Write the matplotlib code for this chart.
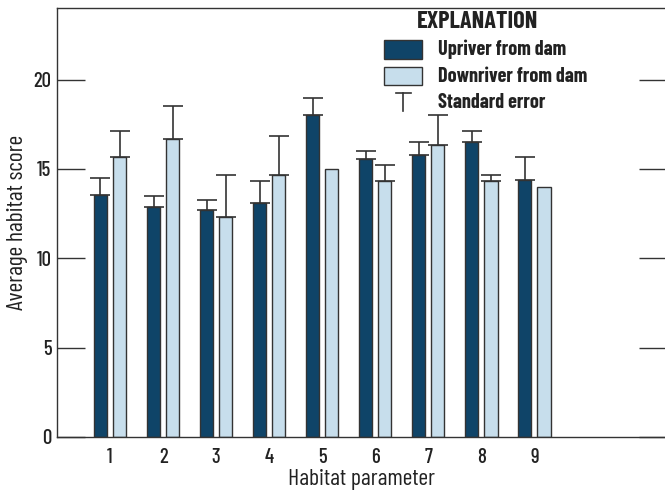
import matplotlib
matplotlib.use("Agg")
import matplotlib.pyplot as plt
import numpy as np
from matplotlib.patches import Rectangle
from matplotlib.lines import Line2D

DARK = "#0F4468"
LIGHT = "#C7DEEC"
EDGE = "#333333"
INK = "#222222"

plt.rcParams["font.family"] = ["Barlow Condensed", "DejaVu Sans"]
plt.rcParams["font.weight"] = 500

params = [1, 2, 3, 4, 5, 6, 7, 8, 9]
upriver = [13.52, 12.85, 12.68, 13.07, 18.0, 15.54, 15.77, 16.53, 14.38]
upriver_se = [0.97, 0.65, 0.60, 1.23, 0.97, 0.46, 0.75, 0.57, 1.29]
downriver = [15.67, 16.68, 12.32, 14.66, 15.0, 14.32, 16.32, 14.32, 13.99]
downriver_se = [1.43, 1.86, 2.34, 2.19, 0.0, 0.88, 1.68, 0.34, 0.0]

fig = plt.figure(figsize=(6.65, 4.95), dpi=100)
ax = fig.add_axes([57 / 665, 58 / 495, 610 / 665, 429 / 495])

x = np.array(params, dtype=float)
w = 0.25
off = 0.18

ax.bar(x - off, upriver, width=w, color=DARK, edgecolor=EDGE, linewidth=1.0, zorder=2)
ax.bar(x + off, downriver, width=w, color=LIGHT, edgecolor=EDGE, linewidth=1.0, zorder=2)

for xs, vals, ses in [(x - off, upriver, upriver_se), (x + off, downriver, downriver_se)]:
    for xi, v, s in zip(xs, vals, ses):
        if s <= 0:
            continue
        ax.errorbar(xi, v, yerr=[[0], [s]], fmt="none", ecolor=EDGE, elinewidth=1.2,
                    capsize=7.5, capthick=1.2, zorder=3)

ax.set_xlim(0, 11.5)
ax.set_ylim(0, 24)
ax.set_yticks([0, 5, 10, 15, 20])
ax.set_xticks(params)
ax.tick_params(axis="y", direction="in", length=20, width=1.0, color=EDGE,
               labelsize=15, labelcolor=INK, right=True, pad=4)
ax.tick_params(axis="x", length=0, labelsize=15, labelcolor=INK, pad=8)
for sp in ax.spines.values():
    sp.set_color(EDGE)
    sp.set_linewidth(1.0)
ax.spines["right"].set_visible(False)

ax.set_xlabel("Habitat parameter", fontsize=17, color=INK, labelpad=1)
ax.set_ylabel("Average habitat score", fontsize=17, color=INK)
ax.yaxis.set_label_coords(-0.048, 0.5)


# explanation box, placed in pixel terms
def fx(px):
    return px / 665


def fy(py):
    return 1 - py / 495


fig.text(fx(478), fy(22), "EXPLANATION", fontsize=17.5, fontweight="bold",
         ha="center", va="center", color=INK)
fig.patches.append(Rectangle((fx(384), fy(59)), fx(38), 19 / 495, transform=fig.transFigure,
                             facecolor=DARK, edgecolor=EDGE, linewidth=1.0))
fig.patches.append(Rectangle((fx(384), fy(85)), fx(38), 18 / 495, transform=fig.transFigure,
                             facecolor=LIGHT, edgecolor=EDGE, linewidth=1.0))
fig.lines.append(Line2D([fx(403), fx(403)], [fy(93), fy(111)], transform=fig.transFigure,
                        color=EDGE, linewidth=1.2))
fig.lines.append(Line2D([fx(396), fx(411)], [fy(93), fy(93)], transform=fig.transFigure,
                        color=EDGE, linewidth=1.2))
for py, label in [(49, "Upriver from dam"), (76, "Downriver from dam"), (102, "Standard error")]:
    fig.text(fx(438), fy(py), label, fontsize=14.5, fontweight="bold",
             ha="left", va="center", color=INK)

fig.savefig("out.png", dpi=100)
